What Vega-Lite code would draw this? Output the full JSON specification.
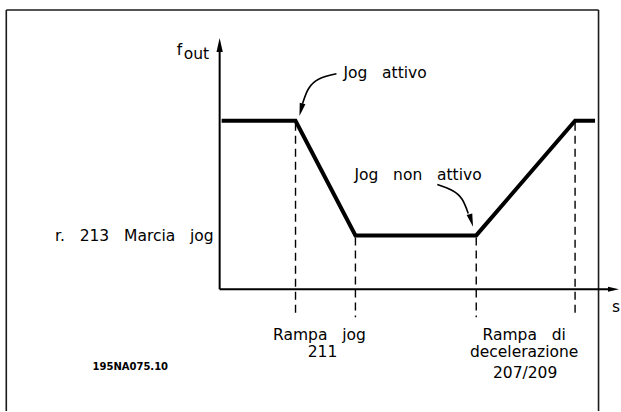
{
  "$schema": "https://vega.github.io/schema/vega-lite/v6.json",
  "width": 621,
  "height": 412,
  "autosize": {"type": "fit", "contains": "padding"},
  "padding": 0,
  "background": "white",
  "config": {"view": {"stroke": null}},
  "datasets": {
    "frame": [
      {"t": -21.37, "f": 28, "t2": 37.95, "f2": 28},
      {"t": -21.37, "f": 28, "t2": -21.37, "f2": -12.2},
      {"t": 37.95, "f": 28, "t2": 37.95, "f2": -12.2}
    ],
    "axes": [
      {"t": 0, "f": 0, "t2": 0, "f2": 23.9},
      {"t": 0, "f": 0, "t2": 39.0, "f2": 0}
    ],
    "curve": [
      {"i": 1, "t": 0.2, "f": 16.9},
      {"i": 2, "t": 7.6, "f": 16.9},
      {"i": 3, "t": 13.6, "f": 5.4},
      {"i": 4, "t": 25.7, "f": 5.4},
      {"i": 5, "t": 35.6, "f": 16.9},
      {"i": 6, "t": 37.6, "f": 16.9}
    ],
    "markers": [
      {"t": 7.6, "f": 16.7, "f2": -2.8},
      {"t": 13.6, "f": 5.2, "f2": -2.8},
      {"t": 25.7, "f": 5.2, "f2": -2.8},
      {"t": 35.6, "f": 16.7, "f2": -2.8}
    ],
    "pointers": [
      {"arrow": "a", "i": 1, "t": 11.7, "f": 21.6},
      {"arrow": "a", "i": 2, "t": 10.0, "f": 21.1},
      {"arrow": "a", "i": 3, "t": 8.9, "f": 20.1},
      {"arrow": "a", "i": 4, "t": 8.3, "f": 18.6},
      {"arrow": "b", "i": 1, "t": 21.8, "f": 10.5},
      {"arrow": "b", "i": 2, "t": 23.3, "f": 9.9},
      {"arrow": "b", "i": 3, "t": 24.3, "f": 9.0},
      {"arrow": "b", "i": 4, "t": 24.9, "f": 7.6}
    ],
    "heads": [
      {"t": 0, "f": 24.5, "angle": 0, "size": 196},
      {"t": 39.45, "f": 0, "angle": 90, "size": 121},
      {"t": 8.15, "f": 18.0, "angle": 194, "size": 169},
      {"t": 25.2, "f": 6.9, "angle": 164, "size": 169}
    ],
    "leftLabels": [
      {"t": 12.4, "f": 21.2, "label": "Jog\u00a0\u00a0\u00a0attivo"},
      {"t": 13.5, "f": 10.95, "label": "Jog\u00a0\u00a0\u00a0non\u00a0\u00a0\u00a0attivo"},
      {"t": -4.3, "f": 23.5, "label": "f"},
      {"t": -3.6, "f": 23.1, "label": "out"}
    ],
    "rightLabels": [
      {"t": -0.6, "f": 4.8, "label": "r.\u00a0\u00a0\u00a0213\u00a0\u00a0\u00a0Marcia\u00a0\u00a0\u00a0jog"}
    ],
    "centerLabels": [
      {"t": 10.0, "f": -5.1, "label": "Rampa\u00a0\u00a0\u00a0jog"},
      {"t": 10.3, "f": -6.83, "label": "211"},
      {"t": 30.5, "f": -5.1, "label": "Rampa\u00a0\u00a0\u00a0di"},
      {"t": 30.5, "f": -6.83, "label": "decelerazione"},
      {"t": 30.6, "f": -8.9, "label": "207/209"},
      {"t": 39.7, "f": -2.3, "label": "s"}
    ],
    "code": [
      {"t": -8.95, "f": -8.07, "label": "195NA075.10"}
    ]
  },
  "encoding": {
    "x": {"field": "t", "type": "quantitative", "scale": {"domain": [-22, 40.1], "nice": false, "zero": false}, "axis": null},
    "y": {"field": "f", "type": "quantitative", "scale": {"domain": [-12.2, 29], "nice": false, "zero": false}, "axis": null}
  },
  "layer": [
    {
      "data": {"name": "frame"},
      "mark": {"type": "rule", "color": "#1a1a1a", "strokeWidth": 1.6},
      "encoding": {"x2": {"field": "t2"}, "y2": {"field": "f2"}}
    },
    {
      "data": {"name": "axes"},
      "mark": {"type": "rule", "color": "black", "strokeWidth": 2},
      "encoding": {"x2": {"field": "t2"}, "y2": {"field": "f2"}}
    },
    {
      "data": {"name": "markers"},
      "mark": {"type": "rule", "color": "black", "strokeWidth": 1.4, "strokeDash": [8, 5]},
      "encoding": {"y2": {"field": "f2"}}
    },
    {
      "data": {"name": "curve"},
      "mark": {"type": "line", "color": "black", "strokeWidth": 4, "strokeJoin": "miter", "strokeCap": "butt"},
      "encoding": {"order": {"field": "i", "type": "quantitative"}}
    },
    {
      "data": {"name": "pointers"},
      "mark": {"type": "line", "color": "black", "strokeWidth": 1.6, "interpolate": "natural"},
      "encoding": {"detail": {"field": "arrow", "type": "nominal"}, "order": {"field": "i", "type": "quantitative"}}
    },
    {
      "data": {"name": "heads"},
      "mark": {"type": "point", "shape": "M0,-1L0.45,1L-0.45,1Z", "filled": true, "color": "black", "opacity": 1, "strokeWidth": 0},
      "encoding": {
        "angle": {"field": "angle", "type": "quantitative", "scale": null},
        "size": {"field": "size", "type": "quantitative", "scale": null}
      }
    },
    {
      "data": {"name": "leftLabels"},
      "mark": {"type": "text", "align": "left", "baseline": "alphabetic", "font": "DejaVu Sans", "fontSize": 15.5, "color": "black"},
      "encoding": {"text": {"field": "label"}}
    },
    {
      "data": {"name": "rightLabels"},
      "mark": {"type": "text", "align": "right", "baseline": "alphabetic", "font": "DejaVu Sans", "fontSize": 15.5, "color": "black"},
      "encoding": {"text": {"field": "label"}}
    },
    {
      "data": {"name": "centerLabels"},
      "mark": {"type": "text", "align": "center", "baseline": "alphabetic", "font": "DejaVu Sans", "fontSize": 15.5, "color": "black"},
      "encoding": {"text": {"field": "label"}}
    },
    {
      "data": {"name": "code"},
      "mark": {"type": "text", "align": "center", "baseline": "alphabetic", "font": "DejaVu Sans", "fontWeight": "bold", "fontSize": 10, "color": "black"},
      "encoding": {"text": {"field": "label"}}
    }
  ]
}
